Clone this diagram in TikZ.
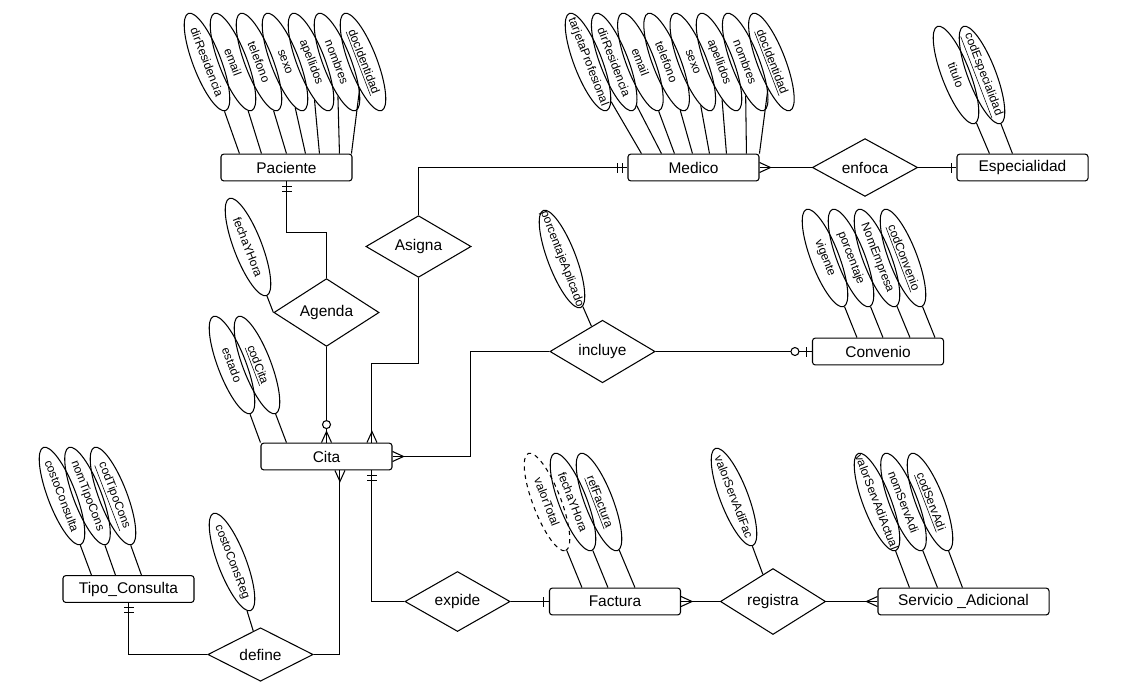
\documentclass[tikz,border=0pt]{standalone}
\usepackage{fontspec}
\setmainfont{Liberation Sans}
\usetikzlibrary{shapes.geometric,calc}

\tikzset{
  entity/.style={draw, rounded corners=2pt, minimum width=3.275cm, minimum height=0.67cm, font=\fontsize{11}{13}\selectfont},
  relation/.style={draw, diamond, inner sep=0pt, minimum width=2.63cm, minimum height=1.3cm, font=\fontsize{11}{13}\selectfont},
  attrib/.style={draw, ellipse, inner sep=0pt, minimum width=2.6cm, minimum height=0.7cm, rotate=-69, font=\fontsize{8.5}{10}\selectfont},
  crow/.pic={\draw (0,-5) -- (11,0) -- (0,5);},
  onebar/.pic={\draw (5,-5) -- (5,5);},
  twobar/.pic={\draw (5,-5) -- (5,5) (10,-5) -- (10,5);},
  zeromany/.pic={\draw (0,-5) -- (11,0) -- (0,5); \draw[fill=white] (18,0) circle[radius=4];},
  zeroone/.pic={\draw (5,-5) -- (5,5); \draw[fill=white] (17,0) circle[radius=4];}
}

\begin{document}
\begin{tikzpicture}[x=0.025cm, y=-0.025cm, line width=0.75pt]
    \useasboundingbox (0,0) rectangle (1137,692);

    % Entidades
    \node[entity] (paciente) at (286.5,167.5) {Paciente};
    \node[entity] (medico) at (693.5,167.5) {Medico};
    \node[entity] (especialidad) at (1022.5,167.5) {Especialidad};
    \node[entity] (convenio) at (878,351.5) {Convenio};
    \node[entity] (cita) at (326.5,456.5) {Cita};
    \node[entity] (tipo) at (128.5,589) {Tipo\_Consulta};
    \node[entity] (factura) at (615,601.5) {Factura};
    \node[entity, minimum width=4.275cm] (servicio) at (963.5,601.5) {Servicio \_Adicional};

    % Relaciones
    \node[relation] (enfoca) at (865,167.5) {enfoca};
    \node[relation] (asigna) at (418.5,246.5) {Asigna};
    \node[relation] (agenda) at (326.5,312.5) {Agenda};
    \node[relation] (incluye) at (602.5,351.5) {incluye};
    \node[relation] (define) at (260.5,654.5) {define};
    \node[relation] (expide) at (457.5,601.5) {expide};
    \node[relation] (registra) at (773,601.5) {registra};

    % Atributos Paciente
    \foreach \n/\t/\o [count=\i from 0] in {pa1/dirResidencia/19, pa2/email/41, pa3/telefono/66, pa4/sexo/85, pa5/apellidos/99, pa6/nombres/119, pa7/\underline{docIdentidad}/131}{
        \node[attrib] (\n) at (207+26*\i,62) {\makebox[0pt]{\t}};
        \draw (\n) -- ($(paciente.north west)+(\o,0)$);
    }

    % Atributos Medico
    \foreach \n/\t/\o [count=\i from 0] in {me1/tarjetaProfesional/14, me2/dirResidencia/34, me3/email/47, me4/telefono/65, me5/sexo/82, me6/apellidos/99, me7/nombres/119, me8/\underline{docIdentidad}/132}{
        \node[attrib] (\n) at (588+26.2*\i,62) {\makebox[0pt]{\t}};
        \draw (\n) -- ($(medico.north west)+(\o,0)$);
    }

    % Atributos Especialidad
    \node[attrib] (es1) at (956,75) {\makebox[0pt]{titulo}};
    \node[attrib] (es2) at (982,75) {\makebox[0pt]{\underline{codEspecialidad}}};
    \draw (es1) -- ($(especialidad.north west)+(33,0)$);
    \draw (es2) -- ($(especialidad.north west)+(56,0)$);

    % Atributos Convenio
    \foreach \n/\t/\o [count=\i from 0] in {co1/vigente/45, co2/porcentaje/71, co3/NomEmpresa/98, co4/\underline{codConvenio}/123}{
        \node[attrib] (\n) at (825+26*\i,258) {\makebox[0pt]{\t}};
        \draw (\n) -- ($(convenio.north west)+(\o,0)$);
    }

    % Atributos Cita
    \node[attrib] (ci1) at (232,365) {\makebox[0pt]{estado}};
    \node[attrib] (ci2) at (257,365) {\makebox[0pt]{\underline{codCita}}};
    \draw (ci1) -- (cita.north west);
    \draw (ci2) -- ($(cita.north west)+(26,0)$);

    % Atributos Tipo_Consulta
    \foreach \n/\t/\o [count=\i from 0] in {tc1/costoConsulta/29, tc2/nomTipoCons/53, tc3/\underline{codTipoCons}/79}{
        \node[attrib] (\n) at (62+25.5*\i,496) {\makebox[0pt]{\t}};
        \draw (\n) -- ($(tipo.north west)+(\o,0)$);
    }

    % Atributos Factura
    \node[attrib, dashed] (fa1) at (547,502) {\makebox[0pt]{valorTotal}};
    \node[attrib] (fa2) at (573,502) {\makebox[0pt]{fechaYHora}};
    \node[attrib] (fa3) at (599,502) {\makebox[0pt]{\underline{refFactura}}};
    \draw (fa1) -- ($(factura.north west)+(33,0)$);
    \draw (fa2) -- ($(factura.north west)+(59,0)$);
    \draw (fa3) -- ($(factura.north west)+(86,0)$);

    % Atributos Servicio_Adicional
    \foreach \n/\t/\o [count=\i from 0] in {sa1/valorServAdiActual/32, sa2/nomServAdi/60, sa3/\underline{codServAdi}/85}{
        \node[attrib] (\n) at (877+26.5*\i,502) {\makebox[0pt]{\t}};
        \draw (\n) -- ($(servicio.north west)+(\o,0)$);
    }

    % Atributos de relaciones
    \node[attrib] (ag1) at (248,247) {\makebox[0pt]{fechaYHora}};
    \draw (ag1) -- (agenda.west);
    \node[attrib] (in1) at (562,259) {\makebox[0pt]{porcentajeAplicado}};
    \draw (in1) -- (incluye);
    \node[attrib] (de1) at (232,562) {\makebox[0pt]{costoConsReg}};
    \draw (de1) -- (define);
    \node[attrib] (re1) at (734,497) {\makebox[0pt]{valorServAdiFac}};
    \draw (re1) -- (registra);

    % Conectores
    \coordinate (citaA) at ($(cita.north west)+(111.5,0)$);
    \coordinate (citaD) at ($(cita.south west)+(79.5,0)$);
    \coordinate (citaE) at ($(cita.south west)+(111.5,0)$);

    \draw (paciente.south) -- ++(0,50.6) -| (agenda.north);
    \pic[rotate=-90] at (paciente.south) {twobar};
    \draw (agenda.south) -- (cita.north);
    \pic[rotate=90] at (cita.north) {zeromany};

    \draw (asigna.north) |- (medico.west);
    \pic[rotate=180] at (medico.west) {twobar};
    \draw (asigna.south) -- ++(0,86) -| (citaA);
    \pic[rotate=90] at (citaA) {crow};

    \draw (medico.east) -- (enfoca.west);
    \pic at (medico.east) {crow};
    \draw (enfoca.east) -- (especialidad.west);
    \pic[rotate=180] at (especialidad.west) {onebar};

    \draw (cita.east) -- ++(77.5,0) |- (incluye.west);
    \pic at (cita.east) {crow};
    \draw (incluye.east) -- (convenio.west);
    \pic[rotate=180] at (convenio.west) {zeroone};

    \draw (citaD) |- (define.east);
    \pic[rotate=-90] at (citaD) {crow};
    \draw (define.west) -| (tipo.south);
    \pic[rotate=-90] at (tipo.south) {twobar};

    \draw (citaE) |- (expide.west);
    \pic[rotate=-90] at (citaE) {twobar};
    \draw (expide.east) -- (factura.west);
    \pic[rotate=180] at (factura.west) {onebar};

    \draw (factura.east) -- (registra.west);
    \pic at (factura.east) {crow};
    \draw (registra.east) -- (servicio.west);
    \pic[rotate=180] at (servicio.west) {crow};
\end{tikzpicture}
\end{document}
